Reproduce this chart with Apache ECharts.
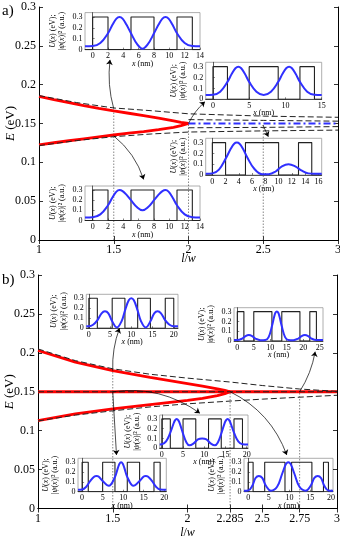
<!DOCTYPE html>
<html>
<head>
<meta charset="utf-8">
<script src="https://cdn.jsdelivr.net/npm/echarts@6/dist/echarts.min.js"></script>
<style>
html, body { margin: 0; padding: 0; background: #fff; }
#main { width: 340px; height: 541px; }
</style>
</head>
<body>
<div id="main"></div>
<script>
// ---------- panel a) : E (eV) against l/w ----------
var aLW = [1, 1.1, 1.2, 1.3, 1.4, 1.5, 1.6, 1.7, 1.8, 1.9, 1.95, 2];
var aRedUpper = [0.185, 0.1808, 0.1768, 0.1730, 0.1695, 0.1662, 0.1632, 0.1602, 0.1570, 0.1535, 0.1515, 0.150];
var aRedLower = [0.1225, 0.1252, 0.1278, 0.1303, 0.1328, 0.1352, 0.1375, 0.1396, 0.1420, 0.1450, 0.1472, 0.150];
var aDashLW = [1, 1.25, 1.5, 1.75, 2, 2.5, 3];
var aDashUpper = [0.186, 0.177, 0.170, 0.1665, 0.1625, 0.1595, 0.158];
var aDashLower = [0.1215, 0.128, 0.133, 0.1365, 0.139, 0.1405, 0.1415];
var aInnerLW = [2, 2.5, 3];
var aInnerUpper = [0.155, 0.154, 0.153];
var aInnerLower = [0.1445, 0.145, 0.146];
var aBlueLW = [2, 3];
var aBlueE = [0.15, 0.15];
var aMarkLW = [1.5, 2, 2.5];
var aMarkTop = [0.170, 0.150, 0.148];
var aTicks = [1, 1.5, 2, 2.5, 3];

// ---------- panel b) ----------
var bLW = [1, 1.25, 1.5, 1.75, 2, 2.1, 2.2, 2.25, 2.285];
var bRedUpper = [0.203, 0.188, 0.177, 0.1685, 0.1605, 0.1573, 0.1538, 0.1518, 0.150];
var bRedLower = [0.113, 0.1215, 0.128, 0.1335, 0.139, 0.1415, 0.145, 0.1475, 0.150];
var bFlatLW = [1, 3];
var bFlatE = [0.15, 0.15];
var bDashLW = [1, 1.25, 1.5, 1.75, 2, 2.285, 2.5, 2.75, 3];
var bDashUpper = [0.205, 0.190, 0.1795, 0.1725, 0.1675, 0.1625, 0.158, 0.1535, 0.1505];
var bDashLower = [0.1125, 0.120, 0.1255, 0.1305, 0.1345, 0.138, 0.1405, 0.143, 0.1455];
var bMarkLW = [1.5, 2.285, 2.75];
var bMarkTop = [0.177, 0.150, 0.150];
var bTicks = [1, 1.5, 2, 2.285, 2.5, 2.75, 3];

var eTicks = [0, 0.05, 0.1, 0.15, 0.2, 0.25, 0.3];

// arrows from curve points to the insets, in (l/w, E)
var aArrows = [
  [[1.5, 0.169], [1.475, 0.232], 0.1],
  [[1.5, 0.134], [1.70, 0.078], 0.15],
  [[2.0, 0.150], [2.11, 0.178], 0.1],
  [[2.498, 0.148], [2.534, 0.133], 0]
];
var bArrows = [
  [[1.5, 0.177], [1.545, 0.2316], 0.1],
  [[2.75, 0.150], [2.854, 0.2015], -0.1],
  [[1.5, 0.150], [2.083, 0.1224], 0.2],
  [[1.5, 0.150], [1.525, 0.0688], 0],
  [[2.285, 0.150], [2.664, 0.0688], 0.2]
];

// ---------- insets: U(x) barriers and |psi(x)|^2 ----------
var U0 = 0.3;
var uTicks = [0, 0.1, 0.2, 0.3];

var a1Bars = [[0, 2], [5, 8], [11, 13]];
var a1X = [-1, 0, 1, 2, 2.6, 3.1, 3.5, 3.9, 4.4, 5, 5.8, 6.5, 7.2, 8, 8.6, 9.1, 9.5, 9.9, 10.4, 11, 12, 13, 14];
var a1Psi = [0.03, 0.032, 0.06, 0.15, 0.23, 0.285, 0.30, 0.285, 0.23, 0.15, 0.05, 0.008, 0.05, 0.15, 0.23, 0.285, 0.30, 0.285, 0.23, 0.15, 0.06, 0.032, 0.03];
var a1Ticks = [0, 2, 4, 6, 8, 10, 12, 14];

var a2Bars = [[0, 2], [5, 9], [12, 14]];
var a2X = [-1, 0, 1, 2, 2.6, 3.1, 3.5, 3.9, 4.4, 5, 6, 7, 8, 9, 9.6, 10.1, 10.5, 10.9, 11.4, 12, 13, 14, 15];
var a2Psi = [0.04, 0.042, 0.07, 0.16, 0.235, 0.285, 0.30, 0.285, 0.235, 0.16, 0.07, 0.04, 0.07, 0.16, 0.235, 0.285, 0.30, 0.285, 0.235, 0.16, 0.07, 0.042, 0.04];
var a2Ticks = [0, 5, 10, 15];

var a3Bars = [[0, 2], [5, 10], [13, 15]];
var a3X = [-1, 0, 1, 2, 2.8, 3.3, 3.7, 4.1, 4.6, 5.3, 6.3, 7.5, 8.5, 9.5, 10.5, 11.5, 12.5, 13.5, 14.5, 15.5, 16.5];
var a3Psi = [0.012, 0.015, 0.05, 0.15, 0.245, 0.29, 0.30, 0.29, 0.245, 0.16, 0.06, 0.008, 0.008, 0.03, 0.08, 0.10, 0.08, 0.04, 0.015, 0.012, 0.012];
var a3Ticks = [0, 2, 4, 6, 8, 10, 12, 14, 16];

var a4Bars = [[0, 2], [5, 8], [11, 13]];
var a4X = [-1, 0, 1, 2, 2.6, 3.1, 3.5, 3.9, 4.4, 5, 5.8, 6.5, 7.2, 8, 8.6, 9.1, 9.5, 9.9, 10.4, 11, 12, 13, 14];
var a4Psi = [0.03, 0.032, 0.06, 0.15, 0.23, 0.285, 0.30, 0.29, 0.255, 0.20, 0.13, 0.10, 0.13, 0.20, 0.255, 0.29, 0.30, 0.285, 0.23, 0.15, 0.06, 0.032, 0.03];
var a4Ticks = [0, 2, 4, 6, 8, 10, 12, 14];

var b1Bars = [[0, 2], [5.5, 8.5], [11.5, 14.5], [18, 20]];
var b1X = [-0.6, 0, 1, 2, 3, 3.8, 4.6, 5.5, 6.6, 7.7, 8.6, 9.4, 10, 10.6, 11.4, 12.3, 13.4, 14.5, 15.4, 16.2, 17, 18, 19, 20, 21];
var b1Psi = [0.02, 0.02, 0.035, 0.08, 0.15, 0.17, 0.15, 0.07, 0.008, 0.07, 0.19, 0.28, 0.30, 0.28, 0.19, 0.07, 0.008, 0.07, 0.15, 0.17, 0.15, 0.08, 0.035, 0.02, 0.02];
var b1Ticks = [0, 5, 10, 15, 20];

var b2Bars = [[0, 2], [5, 10.5], [13.5, 19], [22, 24]];
var b2X = [-1, 0, 1.5, 2.5, 3.5, 4.5, 5.5, 7, 8.5, 9.5, 10.5, 11.2, 11.6, 12, 12.4, 12.8, 13.5, 14.5, 15.5, 17, 18.5, 19.5, 20.5, 21.5, 22.5, 24, 26];
var b2Psi = [0.01, 0.01, 0.025, 0.05, 0.06, 0.05, 0.025, 0.008, 0.01, 0.04, 0.15, 0.25, 0.29, 0.30, 0.29, 0.25, 0.15, 0.04, 0.01, 0.008, 0.025, 0.05, 0.06, 0.05, 0.025, 0.01, 0.01];
var b2Ticks = [0, 5, 10, 15, 20, 25];

var b3Bars = [[0, 2], [5, 8], [11, 14], [17, 19]];
var b3X = [-0.5, 0, 1, 2, 2.7, 3.1, 3.5, 3.9, 4.3, 5, 5.8, 6.5, 7.5, 8.5, 9.5, 10.5, 11.5, 12.5, 13.2, 14, 14.7, 15.1, 15.5, 15.9, 16.3, 17, 18, 19, 20.3];
var b3Psi = [0.04, 0.042, 0.07, 0.16, 0.245, 0.285, 0.30, 0.285, 0.245, 0.15, 0.06, 0.03, 0.05, 0.09, 0.10, 0.09, 0.05, 0.03, 0.06, 0.15, 0.245, 0.285, 0.30, 0.285, 0.245, 0.16, 0.07, 0.042, 0.04];
var b3Ticks = [0, 5, 10, 15, 20];

var b4Bars = [[0, 1.5], [5, 8], [11, 14], [17.5, 19]];
var b4X = [-1, 0, 1, 2, 3, 3.5, 4, 5, 6.5, 8, 8.7, 9.1, 9.5, 9.9, 10.3, 11, 12.5, 14, 15, 15.5, 16, 17, 18, 19, 20.5];
var b4Psi = [0.02, 0.022, 0.05, 0.11, 0.155, 0.16, 0.155, 0.11, 0.06, 0.15, 0.24, 0.285, 0.30, 0.285, 0.24, 0.15, 0.06, 0.11, 0.155, 0.16, 0.155, 0.11, 0.05, 0.022, 0.02];
var b4Ticks = [0, 5, 10, 15, 20];

var b5Bars = [[0, 1.2], [4, 8.9], [10.5, 15.4], [18.2, 19.4]];
var b5X = [-1, 0, 1, 1.8, 2.6, 3.4, 4.3, 5.5, 7, 8.2, 8.9, 9.3, 9.7, 10.1, 10.5, 11.2, 12.4, 13.9, 15.1, 16, 16.8, 17.6, 18.4, 19.4, 20.5];
var b5Psi = [0.01, 0.012, 0.06, 0.14, 0.16, 0.14, 0.06, 0.01, 0.05, 0.18, 0.26, 0.29, 0.30, 0.29, 0.26, 0.18, 0.05, 0.01, 0.06, 0.14, 0.16, 0.14, 0.06, 0.012, 0.01];
var b5Ticks = [0, 5, 10, 15, 20];

var FONT = 'Liberation Serif';
var RED = '#ff0000', BLUE = '#3030ff';

// inset boxes: [left, top, width, height] and x range
var insets = [
  { box: [85, 12.6, 115, 37], xr: [-1, 14], bars: a1Bars, x: a1X, psi: a1Psi, ticks: a1Ticks },
  { box: [205.7, 62.3, 116, 37], xr: [-1, 15], bars: a2Bars, x: a2X, psi: a2Psi, ticks: a2Ticks },
  { box: [205.7, 138.3, 116, 36.7], xr: [-1, 16.5], bars: a3Bars, x: a3X, psi: a3Psi, ticks: a3Ticks },
  { box: [85, 186, 115, 34.5], xr: [-1, 14], bars: a4Bars, x: a4X, psi: a4Psi, ticks: a4Ticks },
  { box: [86.3, 294.3, 91.7, 34], xr: [-0.6, 21], bars: b1Bars, x: b1X, psi: b1Psi, ticks: b1Ticks },
  { box: [234, 307.7, 89, 33.3], xr: [-1, 26], bars: b2Bars, x: b2X, psi: b2Psi, ticks: b2Ticks },
  { box: [159.7, 415, 88.3, 33.3], xr: [-0.5, 20.3], bars: b3Bars, x: b3X, psi: b3Psi, ticks: b3Ticks },
  { box: [78, 458.3, 88.3, 33.4], xr: [-1, 20.5], bars: b4Bars, x: b4X, psi: b4Psi, ticks: b4Ticks },
  { box: [244, 458.3, 89, 33.4], xr: [-1, 20.5], bars: b5Bars, x: b5X, psi: b5Psi, ticks: b5Ticks }
];

function pairs(xs, ys) {
  return xs.map(function (x, i) { return [x, ys[i]]; });
}

// outline of the square barriers
function barrierLine(bars, xmin, xmax) {
  var pts = [[xmin, 0]];
  bars.forEach(function (b) {
    pts.push([b[0], 0], [b[0], U0], [b[1], U0], [b[1], 0]);
  });
  pts.push([xmax, 0]);
  return pts;
}

var italic = { fontStyle: 'italic', fontFamily: FONT, color: '#000' };

var grids = [], xAxes = [], yAxes = [], series = [];

function mainPanel(box, ticks, nameGapX) {
  var gi = grids.length;
  grids.push({ left: box[0], top: box[1], width: box[2], height: box[3], outerBoundsMode: 'none', containLabel: false });
  var tickStyle = { inside: true, length: 4, lineStyle: { color: '#000', width: 0.8 } };
  var lineStyle = { lineStyle: { color: '#000', width: 1 } };
  xAxes.push({
    gridIndex: gi, type: 'value', min: 1, max: 3, position: 'bottom',
    axisLine: lineStyle, axisTick: Object.assign({ customValues: ticks }, tickStyle),
    axisLabel: { customValues: ticks, color: '#000', fontFamily: FONT, fontSize: 12, margin: 4 },
    splitLine: { show: false },
    name: '{i|l}/{i|w}', nameLocation: 'middle', nameGap: nameGapX, nameMoveOverlap: false,
    nameTextStyle: { fontFamily: FONT, fontSize: 12, color: '#000', rich: { i: Object.assign({ fontSize: 12 }, italic) } }
  });
  xAxes.push({
    gridIndex: gi, type: 'value', min: 1, max: 3, position: 'top',
    axisLine: lineStyle, axisTick: Object.assign({ customValues: ticks }, tickStyle),
    axisLabel: { show: false }, splitLine: { show: false }
  });
  yAxes.push({
    gridIndex: gi, type: 'value', min: 0, max: 0.3, position: 'left',
    axisLine: lineStyle, axisTick: Object.assign({ customValues: eTicks }, tickStyle),
    axisLabel: { customValues: eTicks, color: '#000', fontFamily: FONT, fontSize: 12, margin: 3 },
    splitLine: { show: false },
    name: '{i|E} (eV)', nameLocation: 'middle', nameGap: 22, nameRotate: 90, nameMoveOverlap: false,
    nameTextStyle: { fontFamily: FONT, fontSize: 13, color: '#000', rich: { i: Object.assign({ fontSize: 13 }, italic) } }
  });
  yAxes.push({
    gridIndex: gi, type: 'value', min: 0, max: 0.3, position: 'right',
    axisLine: lineStyle, axisTick: Object.assign({ customValues: eTicks }, tickStyle),
    axisLabel: { show: false }, splitLine: { show: false }
  });
  return xAxes.length - 2;
}

function line(ax, data, style, z) {
  return {
    type: 'line', xAxisIndex: ax, yAxisIndex: ax, data: data,
    symbol: 'none', lineStyle: style, z: z, silent: true
  };
}

var dashed = { color: '#222', width: 1, type: [6, 3] };
var dotted = { color: '#555', width: 0.7, type: [1.5, 1.5] };
var thickRed = { color: RED, width: 2.8 };

function marks(ax, lw, top) {
  lw.forEach(function (x, i) {
    series.push(line(ax, [[x, 0], [x, top[i]]], dotted, 1));
  });
}

function arrows(ax, list) {
  series.push({
    type: 'lines', coordinateSystem: 'cartesian2d', xAxisIndex: ax, yAxisIndex: ax,
    symbol: ['none', 'arrow'], symbolSize: 5, z: 6, silent: true,
    lineStyle: { color: '#000', width: 0.7, opacity: 1 },
    data: list.map(function (a) {
      return { coords: [a[0], a[1]], lineStyle: { curveness: a[2] } };
    })
  });
}

// panel a
var axA = mainPanel([39, 7, 299, 233], aTicks, 12.5);
marks(axA, aMarkLW, aMarkTop);
series.push(line(axA, pairs(aLW, aRedUpper), thickRed, 3));
series.push(line(axA, pairs(aLW, aRedLower), thickRed, 3));
series.push(line(axA, pairs(aDashLW, aDashUpper), dashed, 4));
series.push(line(axA, pairs(aDashLW, aDashLower), dashed, 4));
series.push(line(axA, pairs(aInnerLW, aInnerUpper), dashed, 4));
series.push(line(axA, pairs(aInnerLW, aInnerLower), dashed, 4));
series.push(line(axA, pairs(aBlueLW, aBlueE), { color: BLUE, width: 2.2, type: [7, 3, 2, 3] }, 5));
arrows(axA, aArrows);

// panel b
var axB = mainPanel([38, 275, 299, 233.5], bTicks, 18.5);
marks(axB, bMarkLW, bMarkTop);
series.push(line(axB, pairs(bLW, bRedUpper), thickRed, 3));
series.push(line(axB, pairs(bLW, bRedLower), thickRed, 3));
series.push(line(axB, pairs(bFlatLW, bFlatE), thickRed, 3));
series.push(line(axB, pairs(bDashLW, bDashUpper), dashed, 4));
series.push(line(axB, pairs(bDashLW, bDashLower), dashed, 4));
series.push(line(axB, pairs(bFlatLW, bFlatE), dashed, 4));
arrows(axB, bArrows);

// insets
insets.forEach(function (ins) {
  var gi = grids.length;
  grids.push({
    left: ins.box[0], top: ins.box[1], width: ins.box[2], height: ins.box[3],
    outerBoundsMode: 'none', containLabel: false,
    show: true, borderColor: '#999', borderWidth: 0.8, backgroundColor: 'transparent'
  });
  var small = { color: '#000', fontFamily: FONT, fontSize: 8, margin: 2.5 };
  var tick = { inside: true, length: 2, lineStyle: { color: '#333', width: 0.6 } };
  var axLine = { lineStyle: { color: '#333', width: 0.8 } };
  xAxes.push({
    gridIndex: gi, type: 'value', min: ins.xr[0], max: ins.xr[1],
    axisLine: axLine, axisTick: Object.assign({ customValues: ins.ticks }, tick),
    axisLabel: Object.assign({ customValues: ins.ticks }, small),
    splitLine: { show: false },
    name: '{i|x} (nm)', nameLocation: 'middle', nameGap: 10, nameMoveOverlap: false,
    nameTextStyle: { fontFamily: FONT, fontSize: 8, color: '#000', rich: { i: Object.assign({ fontSize: 8 }, italic) } }
  });
  yAxes.push({
    gridIndex: gi, type: 'value', min: 0, max: 0.34,
    axisLine: axLine, axisTick: Object.assign({ customValues: uTicks }, tick),
    axisLabel: Object.assign({ customValues: uTicks }, small),
    splitLine: { show: false },
    name: '{i|U}({i|x}) (eV);\n|{i|ψ}({i|x})|² (a.u.)', nameLocation: 'middle', nameGap: 18, nameRotate: 90, nameMoveOverlap: false,
    nameTextStyle: { fontFamily: FONT, fontSize: 8, lineHeight: 9.5, color: '#000', rich: { i: Object.assign({ fontSize: 8, lineHeight: 9.5 }, italic) } }
  });
  var ax = xAxes.length - 1;
  series.push(line(ax, barrierLine(ins.bars, ins.xr[0], ins.xr[1]), { color: '#222', width: 1.1 }, 7));
  var s = line(ax, pairs(ins.x, ins.psi), { color: BLUE, width: 2 }, 8);
  s.smooth = 0.4;
  series.push(s);
});

var chart = echarts.init(document.getElementById('main'), null, { renderer: 'canvas' });
chart.setOption({
  animation: false,
  backgroundColor: '#fff',
  grid: grids,
  xAxis: xAxes,
  yAxis: yAxes,
  series: series,
  graphic: [
    { type: 'text', left: 2, top: 4, style: { text: 'a)', font: '15px "Liberation Serif"', fill: '#000' } },
    { type: 'text', left: 2, top: 273, style: { text: 'b)', font: '15px "Liberation Serif"', fill: '#000' } }
  ]
});
</script>
</body>
</html>
